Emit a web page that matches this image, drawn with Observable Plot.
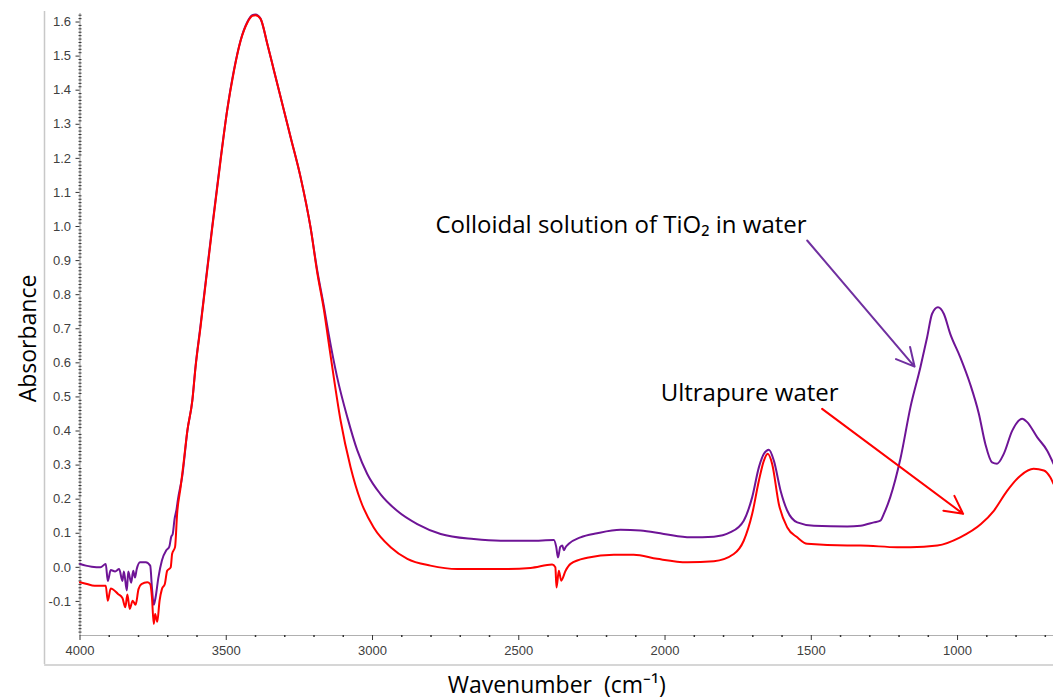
<!DOCTYPE html>
<html>
<head>
<meta charset="utf-8">
<script src="https://cdn.jsdelivr.net/npm/d3@7"></script>
<script src="https://cdn.jsdelivr.net/npm/@observablehq/plot@0.6"></script>
<style>
  html, body { margin: 0; padding: 0; background: #fff; }
</style>
</head>
<body>
<div id="chart"></div>
<script>
// ---- Data ----
const tioWn = [4000,3980,3960,3930,3912,3905,3895,3880,3866,3855,3850,3840,3835,3825,3818,3812,3806,3795,3775,3760,3754,3748,3742,3732,3720,3705,3695,3688,3683,3677,3670,3665,3650,3633,3616,3605,3588,3577,3548,3520,3497,3474,3451,3428,3411,3400,3383,3360,3337,3303,3280,3246,3212,3189,3166,3150,3121,3086,3052,3018,2973,2916,2847,2767,2654,2562,2460,2380,2372,2366,2358,2351,2346,2340,2329,2289,2232,2152,2084,2004,1913,1833,1776,1731,1702,1679,1662,1645,1628,1605,1582,1548,1491,1377,1332,1286,1264,1252,1230,1195,1161,1127,1104,1087,1067,1047,1025,991,957,927,905,882,865,842,813,779,762,728,694,672];
const tioAbs = [0.010,0.005,0.002,0.000,0.010,-0.040,-0.008,-0.012,-0.005,-0.040,-0.012,-0.068,-0.012,-0.045,-0.010,-0.030,-0.005,0.015,0.015,0.005,-0.060,-0.110,-0.090,-0.030,0.020,0.050,0.060,0.090,0.098,0.140,0.170,0.200,0.270,0.400,0.490,0.590,0.710,0.790,1.000,1.194,1.341,1.458,1.546,1.600,1.620,1.622,1.610,1.537,1.458,1.341,1.262,1.145,0.998,0.871,0.765,0.685,0.558,0.440,0.343,0.274,0.215,0.166,0.127,0.098,0.083,0.078,0.078,0.080,0.060,0.029,0.060,0.064,0.050,0.059,0.069,0.088,0.100,0.110,0.108,0.098,0.088,0.090,0.103,0.137,0.206,0.294,0.333,0.345,0.313,0.225,0.166,0.132,0.122,0.120,0.122,0.132,0.137,0.157,0.206,0.320,0.470,0.587,0.675,0.744,0.763,0.744,0.685,0.617,0.538,0.450,0.362,0.308,0.304,0.333,0.401,0.436,0.426,0.382,0.343,0.304];

const waterWn = [4000,3980,3950,3912,3905,3895,3870,3855,3845,3838,3830,3820,3810,3800,3790,3770,3760,3754,3748,3743,3736,3728,3720,3710,3702,3690,3685,3675,3668,3656,3645,3633,3616,3605,3588,3577,3548,3520,3497,3474,3451,3428,3411,3400,3383,3360,3337,3303,3280,3246,3212,3189,3166,3150,3132,3109,3075,3041,2996,2938,2881,2802,2710,2562,2460,2386,2375,2371,2363,2355,2340,2323,2266,2175,2107,2027,1924,1833,1765,1731,1702,1679,1662,1649,1634,1611,1582,1548,1514,1377,1332,1206,1161,1069,991,920,876,830,785,740,705,683,672];
const waterAbs = [-0.044,-0.048,-0.054,-0.054,-0.098,-0.062,-0.078,-0.090,-0.117,-0.080,-0.122,-0.098,-0.110,-0.064,-0.049,-0.044,-0.049,-0.088,-0.166,-0.137,-0.160,-0.098,-0.064,-0.049,-0.010,0.000,0.040,0.060,0.157,0.235,0.313,0.401,0.489,0.587,0.705,0.785,0.995,1.190,1.340,1.455,1.545,1.598,1.618,1.620,1.610,1.537,1.458,1.341,1.262,1.145,0.998,0.865,0.755,0.660,0.555,0.430,0.294,0.196,0.117,0.059,0.025,0.005,-0.005,-0.005,-0.002,0.008,0.000,-0.059,-0.010,-0.039,-0.010,0.010,0.028,0.037,0.037,0.025,0.015,0.018,0.039,0.078,0.157,0.255,0.313,0.333,0.304,0.186,0.117,0.088,0.069,0.064,0.064,0.059,0.059,0.064,0.088,0.127,0.166,0.225,0.269,0.289,0.284,0.264,0.245];

const xTicks = [4000, 3500, 3000, 2500, 2000, 1500, 1000];
const xMinor = d3.range(700, 4000, 100).filter(d => d % 500 !== 0);
const yTicks = d3.range(-1, 17).map(i => i / 10);
const yMinor = d3.range(-19, 163).filter(i => i % 10 !== 0).map(i => i / 100);

const labelNames = ["Colloidal solution of TiO\u2082 in water", "Ultrapure water"];
const labelWn = [2785, 2015];
const labelAbs = [1.004, 0.51];
const labelColors = ["#000", "#000"];

const arrowWn1 = [1514, 1463];
const arrowAbs1 = [0.959, 0.465];
const arrowWn2 = [1147, 981];
const arrowAbs2 = [0.589, 0.157];
const arrowColors = ["#7030a0", "#ff0000"];

// ---- Build tables ----
const tio = tioWn.map((w, i) => ({wn: w, abs: tioAbs[i]}));
const water = waterWn.map((w, i) => ({wn: w, abs: waterAbs[i]}));
const labels = labelNames.map((t, i) => ({t, wn: labelWn[i], abs: labelAbs[i], c: labelColors[i]}));
const arrows = arrowColors.map((c, i) => ({x1: arrowWn1[i], y1: arrowAbs1[i], x2: arrowWn2[i], y2: arrowAbs2[i], c}));

const tickFont = "Liberation Sans";
const titleFont = "Open Sans";

const chart = Plot.plot({
  width: 1053,
  height: 700,
  marginLeft: 79.5,
  marginRight: 0,
  marginTop: 13,
  marginBottom: 65,
  x: {domain: [4000, 672], axis: null},
  y: {domain: [-0.2, 1.625], axis: null},
  style: {background: "white", fontFamily: tickFont, fontSize: "13px", color: "#404040"},
  marks: [
    // outer frame lines (left and bottom)
    Plot.ruleX([4000], {y1: -0.285, y2: 1.631, dx: -35.5, stroke: "#c8c8c8", strokeWidth: 1.5}),
    Plot.ruleY([-0.2], {x1: 4121, x2: 672, dy: 29.5, stroke: "#c8c8c8", strokeWidth: 1.5}),
    // axis lines
    Plot.ruleX([4000], {y1: -0.2, y2: 1.625, stroke: "#9a9a9a"}),
    Plot.ruleY([-0.2], {stroke: "#b0b0b0"}),
    // ticks
    Plot.axisX(xTicks, {tickSize: 5, tickPadding: 5, tickFormat: d => String(d), label: null, fontSize: 13, fill: "#404040", stroke: "#333"}),
    Plot.axisX(xMinor, {tickSize: 2, tickFormat: () => "", label: null, stroke: "#333", strokeWidth: 1.5}),
    Plot.axisY(yTicks, {tickSize: 4, tickPadding: 5, tickFormat: d => d.toFixed(1), label: null, fontSize: 13, fill: "#404040", stroke: "#333"}),
    Plot.axisY(yMinor, {tickSize: 3, dx: 2, tickFormat: () => "", label: null, stroke: "#333"}),
    // spectra
    Plot.line(tio, {x: "wn", y: "abs", stroke: "#6e1496", strokeWidth: 2, curve: "monotone-x"}),
    Plot.line(water, {x: "wn", y: "abs", stroke: "#ff0000", strokeWidth: 2, curve: "monotone-x"}),
    // annotations
    Plot.arrow(arrows, {x1: "x1", y1: "y1", x2: "x2", y2: "y2", stroke: "c", strokeWidth: 2, headLength: 15, headAngle: 55}),
    Plot.text(labels, {x: "wn", y: "abs", text: "t", fill: "c", textAnchor: "start", fontSize: 24, fontFamily: titleFont}),
    // axis titles
    Plot.text(["Absorbance"], {frameAnchor: "left", textAnchor: "middle", lineAnchor: "middle", rotate: -90, dx: -51, dy: 14, fontSize: 23, fontFamily: titleFont, fill: "#000"}),
    Plot.text(["Wavenumber  (cm\u207B\u00B9)"], {frameAnchor: "bottom", textAnchor: "middle", lineAnchor: "middle", dx: -10, dy: 50, fontSize: 23, fontFamily: titleFont, fill: "#000"})
  ]
});
document.getElementById("chart").appendChild(chart);
</script>
</body>
</html>
